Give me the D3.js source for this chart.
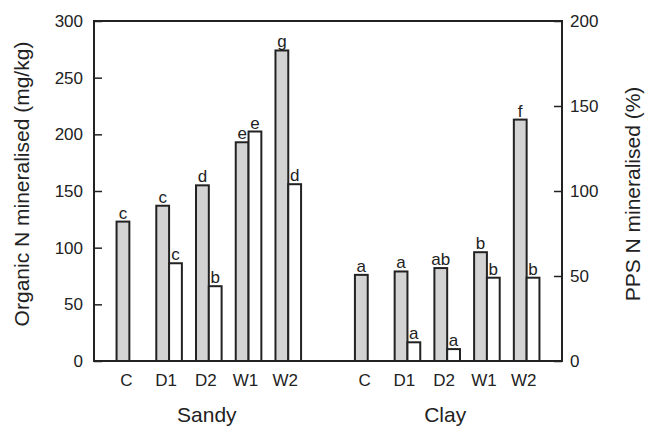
<!DOCTYPE html>
<html>
<head>
<meta charset="utf-8">
<script src="https://cdn.jsdelivr.net/npm/d3@7"></script>
<style>
    body {margin: 0; background: #fff;}
    svg text {font-family: "Liberation Sans", Arial, Helvetica, sans-serif; fill: #222;}
    .tick-label {font-size: 17px;}
    .bar-label {font-size: 17px;}
    .axis-title {font-size: 21px;}
    .frame {fill: none; stroke: #222; stroke-width: 2;}
    .bar {stroke: #222; stroke-width: 2;}
</style>
</head>
<body>
<svg id="chart" width="647" height="427"></svg>
<script>
    // treatments within each soil
    let treatments = ["C", "D1", "D2", "W1", "W2"];
    let soils = ["Sandy", "Clay"];

    // organic N mineralised (mg/kg), left axis
    let sandyOrganic = [123, 137, 155, 193, 274];
    let clayOrganic = [76, 79, 82, 96, 213];
    // PPS N mineralised (%), right axis (no value for control)
    let sandyPPS = [null, 57.5, 44, 135, 104];
    let clayPPS = [null, 11, 7, 49, 49];

    // significance letters
    let sandyOrganicLetters = ["c", "c", "d", "e", "g"];
    let sandyPPSLetters = ["", "c", "b", "e", "d"];
    let clayOrganicLetters = ["a", "a", "ab", "b", "f"];
    let clayPPSLetters = ["", "a", "a", "b", "b"];

    let leftTicks = [0, 50, 100, 150, 200, 250, 300];
    let rightTicks = [0, 50, 100, 150, 200];

    let margin = {top: 21, right: 85, bottom: 66, left: 94},
        width = 647 - margin.left - margin.right,
        height = 427 - margin.top - margin.bottom;

    let svg = d3.select("#chart");
    let g = svg.append("g").attr("transform", "translate(" + margin.left + "," + margin.top + ")");

    // one slot per treatment, with an empty slot between soils
    let slots = [];
    let rows = [];
    soils.forEach(function(soil, si) {
        let org = si === 0 ? sandyOrganic : clayOrganic;
        let pps = si === 0 ? sandyPPS : clayPPS;
        let orgL = si === 0 ? sandyOrganicLetters : clayOrganicLetters;
        let ppsL = si === 0 ? sandyPPSLetters : clayPPSLetters;
        treatments.forEach(function(t, i) {
            let key = soil + "-" + t;
            slots.push(key);
            rows.push({key: key, soil: soil, treatment: t, organic: org[i], pps: pps[i], orgLetter: orgL[i], ppsLetter: ppsL[i]});
        });
        if (si === 0) slots.push("gap");
    });

    let x = d3.scaleBand()
        .domain(slots)
        .range([0, width])
        .paddingInner(0)
        .paddingOuter(0.39);

    let yLeft = d3.scaleLinear().domain([0, 300]).range([height, 0]);
    let yRight = d3.scaleLinear().domain([0, 200]).range([height, 0]);

    let barW = 12.8;
    let center = function(d) { return x(d.key) + x.bandwidth() / 2; };

    // gray bars: organic N
    g.selectAll(".bar-org")
        .data(rows)
        .enter().append("rect")
        .attr("class", "bar")
        .attr("x", d => center(d) - barW)
        .attr("y", d => yLeft(d.organic))
        .attr("width", barW)
        .attr("height", d => height - yLeft(d.organic))
        .style("fill", "#d3d3d3");

    // white bars: PPS N
    let ppsRows = rows.filter(d => d.pps !== null);
    g.selectAll(".bar-pps")
        .data(ppsRows)
        .enter().append("rect")
        .attr("class", "bar")
        .attr("x", d => center(d))
        .attr("y", d => yRight(d.pps))
        .attr("width", barW)
        .attr("height", d => height - yRight(d.pps))
        .style("fill", "#fff");

    g.selectAll(".lab-org")
        .data(rows)
        .enter().append("text")
        .attr("class", "bar-label")
        .attr("x", d => center(d) - barW / 2)
        .attr("y", d => yLeft(d.organic) - 3)
        .attr("text-anchor", "middle")
        .text(d => d.orgLetter);

    g.selectAll(".lab-pps")
        .data(ppsRows)
        .enter().append("text")
        .attr("class", "bar-label")
        .attr("x", d => center(d) + barW / 2)
        .attr("y", d => yRight(d.pps) - 3)
        .attr("text-anchor", "middle")
        .text(d => d.ppsLetter);

    // frame
    g.append("rect")
        .attr("class", "frame")
        .attr("x", 0).attr("y", 0)
        .attr("width", width).attr("height", height);

    // left axis, ticks pointing inward
    let leftAxis = d3.axisRight(yLeft).tickValues(leftTicks).tickSize(8).tickFormat("");
    g.append("g").call(leftAxis)
        .call(a => a.select(".domain").remove())
        .selectAll("line").attr("stroke", "#222").attr("stroke-width", 1.5);
    g.selectAll(".ylab")
        .data(leftTicks)
        .enter().append("text")
        .attr("class", "tick-label")
        .attr("x", -11)
        .attr("y", d => yLeft(d))
        .attr("dy", "0.35em")
        .attr("text-anchor", "end")
        .text(d => d);

    // right axis, ticks pointing inward
    let rightAxis = d3.axisLeft(yRight).tickValues(rightTicks).tickSize(8).tickFormat("");
    g.append("g").attr("transform", "translate(" + width + ",0)").call(rightAxis)
        .call(a => a.select(".domain").remove())
        .selectAll("line").attr("stroke", "#222").attr("stroke-width", 1.5);
    g.selectAll(".rlab")
        .data(rightTicks)
        .enter().append("text")
        .attr("class", "tick-label")
        .attr("x", width + 8)
        .attr("y", d => yRight(d))
        .attr("dy", "0.35em")
        .attr("text-anchor", "start")
        .text(d => d);

    // treatment labels
    g.selectAll(".xlab")
        .data(rows)
        .enter().append("text")
        .attr("class", "tick-label")
        .attr("x", d => center(d) - 3)
        .attr("y", height + 25)
        .attr("text-anchor", "middle")
        .text(d => d.treatment);

    // soil labels, under the middle treatment
    g.selectAll(".soil")
        .data(soils)
        .enter().append("text")
        .attr("class", "axis-title")
        .attr("x", d => x(d + "-D2") + x.bandwidth() / 2 - 2)
        .attr("y", height + 61)
        .attr("text-anchor", "middle")
        .text(d => d);

    svg.append("text")
        .attr("class", "axis-title")
        .attr("transform", "translate(29," + (margin.top + 163) + ") rotate(-90)")
        .attr("text-anchor", "middle")
        .text("Organic N mineralised (mg/kg)");

    svg.append("text")
        .attr("class", "axis-title")
        .attr("transform", "translate(640," + (margin.top + 173) + ") rotate(-90)")
        .attr("text-anchor", "middle")
        .text("PPS N mineralised (%)");
</script>
</body>
</html>
